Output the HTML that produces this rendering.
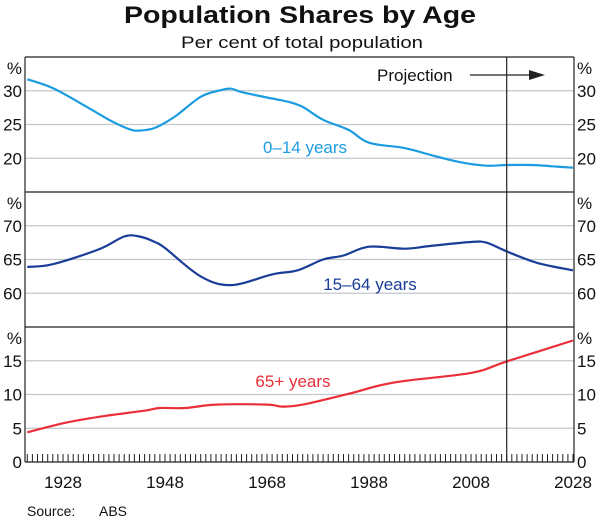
<!DOCTYPE html>
<html><head><meta charset="utf-8"><style>
body{margin:0;background:#fff;}
svg{display:block;font-family:"Liberation Sans",Arial,sans-serif;}
</style></head><body>
<svg id="chart" width="600" height="521" viewBox="0 0 600 521" xmlns="http://www.w3.org/2000/svg">
<text x="300" y="23" text-anchor="middle" font-size="24" font-weight="bold" fill="#111" textLength="352" lengthAdjust="spacingAndGlyphs">Population Shares by Age</text>
<text x="302" y="48" text-anchor="middle" font-size="17" fill="#111" textLength="242" lengthAdjust="spacingAndGlyphs">Per cent of total population</text>
<g id="grid"></g><g id="series"></g><g id="frame"></g>
<text x="27" y="516" font-size="14" fill="#111">Source:</text>
<text x="99" y="516" font-size="14" fill="#111">ABS</text>
</svg>
<script>
const years014 = [1921,1926,1932,1937,1941,1943,1946,1950,1955,1959,1961,1963,1968,1972,1975,1979,1984,1988,1995,2001,2006,2011,2015,2020,2024,2028];
const vals014  = [31.7,30.4,27.9,25.7,24.3,24.1,24.5,26.2,29.1,30.1,30.3,29.8,29.0,28.4,27.6,25.7,24.2,22.3,21.5,20.3,19.4,18.9,19.0,19.0,18.8,18.6];
const years1564 = [1921,1926,1935,1940,1943,1946,1948,1955,1961,1969,1974,1979,1983,1988,1995,2000,2008,2011,2015,2021,2028];
const vals1564  = [63.9,64.3,66.5,68.4,68.4,67.6,66.7,62.5,61.2,62.8,63.4,65.0,65.6,66.9,66.6,67.0,67.6,67.5,66.2,64.5,63.4];
const years65 = [1921,1929,1937,1944,1947,1952,1958,1968,1971,1975,1984,1993,2008,2015,2028];
const vals65  = [4.4,5.9,6.9,7.6,8.0,8.0,8.5,8.5,8.2,8.5,10.1,11.8,13.2,14.9,18.0];
const xTickLabels = [1928,1948,1968,1988,2008,2028];
const projectionYear = 2015;
const panelTicks = [[20,25,30],[60,65,70],[0,5,10,15]];

const NS="http://www.w3.org/2000/svg";
const L=25,R=574;
const x=y=>63+(y-1928)*5.1;
const panels=[{top:57,bot:192,min:15,max:35},{top:192,bot:327,min:55,max:75},{top:327,bot:462,min:0,max:20}];
const yf=(p,v)=>p.bot-(v-p.min)/(p.max-p.min)*(p.bot-p.top);
function mk(tag,attrs,parent,txt){const e=document.createElementNS(NS,tag);for(const k in attrs)e.setAttribute(k,attrs[k]);if(txt!==undefined)e.textContent=txt;parent.appendChild(e);return e;}
const grid=document.getElementById('grid'),ser=document.getElementById('series'),fr=document.getElementById('frame');
panels.forEach((p,i)=>{
  panelTicks[i].forEach(t=>{
    const yy=yf(p,t);
    if(t!==p.min){const g=mk('line',{x1:L,x2:R,y1:yy,y2:yy,stroke:'#c3c8cd','stroke-width':1.3},grid);
    
    }
    const a=mk('text',{x:L-3,y:yy+6,'text-anchor':'end','font-size':17,fill:'#111'},fr,t);
    
    
    const b=mk('text',{x:R+3,y:yy+6,'font-size':17,fill:'#111'},fr,t);
    
    
  });
  const pl=mk('text',{x:L-3,y:p.top+17,'text-anchor':'end','font-size':17,fill:'#111'},fr,'%');
  
  
  const pr=mk('text',{x:R+3,y:p.top+17,'font-size':17,fill:'#111'},fr,'%');
  
  
});
function line(ys,vs,p,col,name){
  const pts=ys.map((yr,i)=>[x(yr),yf(p,vs[i])]);
  let d='M'+pts[0][0].toFixed(1)+','+pts[0][1].toFixed(1);
  for(let i=0;i<pts.length-1;i++){
    const p0=pts[Math.max(0,i-1)],p1=pts[i],p2=pts[i+1],p3=pts[Math.min(pts.length-1,i+2)];
    const c1=[p1[0]+(p2[0]-p0[0])/6,p1[1]+(p2[1]-p0[1])/6];
    const c2=[p2[0]-(p3[0]-p1[0])/6,p2[1]-(p3[1]-p1[1])/6];
    d+=' C'+c1[0].toFixed(1)+','+c1[1].toFixed(1)+' '+c2[0].toFixed(1)+','+c2[1].toFixed(1)+' '+p2[0].toFixed(1)+','+p2[1].toFixed(1);
  }
  const e=mk('path',{d:d,fill:'none',stroke:col,'stroke-width':2.2,'stroke-linejoin':'round'},ser);
  
  
}
line(years014,vals014,panels[0],'#1c9ce0','line-0-14');
line(years1564,vals1564,panels[1],'#1a3d98','line-15-64');
line(years65,vals65,panels[2],'#ea2f3a','line-65-plus');
const labs=[['0–14 years',305,153,'#1c9ce0','label-0-14'],['15–64 years',370,290,'#1a3d98','label-15-64'],['65+ years',293,387,'#ea2f3a','label-65-plus']];
labs.forEach(l=>{const e=mk('text',{x:l[1],y:l[2],'text-anchor':'middle','font-size':17,fill:l[3]},ser,l[0]);

});
[[L,57,R,57],[L,57,L,462],[R,57,R,462],[L,192,R,192],[L,327,R,327],[L,462,R,462]].forEach(c=>{
  const e=mk('line',{x1:c[0],y1:c[1],x2:c[2],y2:c[3],stroke:'#222','stroke-width':1.2},fr);
  
  
});
const px=x(projectionYear);
const pj=mk('line',{x1:px,x2:px,y1:57,y2:462,stroke:'#222','stroke-width':1.2},fr);


for(let yr=1921;yr<=2028;yr++){
  const t=mk('line',{x1:x(yr),x2:x(yr),y1:462,y2:454,stroke:'#222','stroke-width':1},fr);
  
  
}
xTickLabels.forEach(yr=>{
  const t=mk('text',{x:x(yr),y:488,'text-anchor':'middle','font-size':17,fill:'#111'},fr,yr);
  
  
});
const pt=mk('text',{x:377,y:81,'font-size':17,fill:'#111'},fr,'Projection');


const ar=mk('line',{x1:470,x2:532,y1:75,y2:75,stroke:'#222','stroke-width':1.3},fr);


const ah=mk('polygon',{points:'529,70 545,75 529,80',fill:'#222'},fr);


</script>
</body></html>
